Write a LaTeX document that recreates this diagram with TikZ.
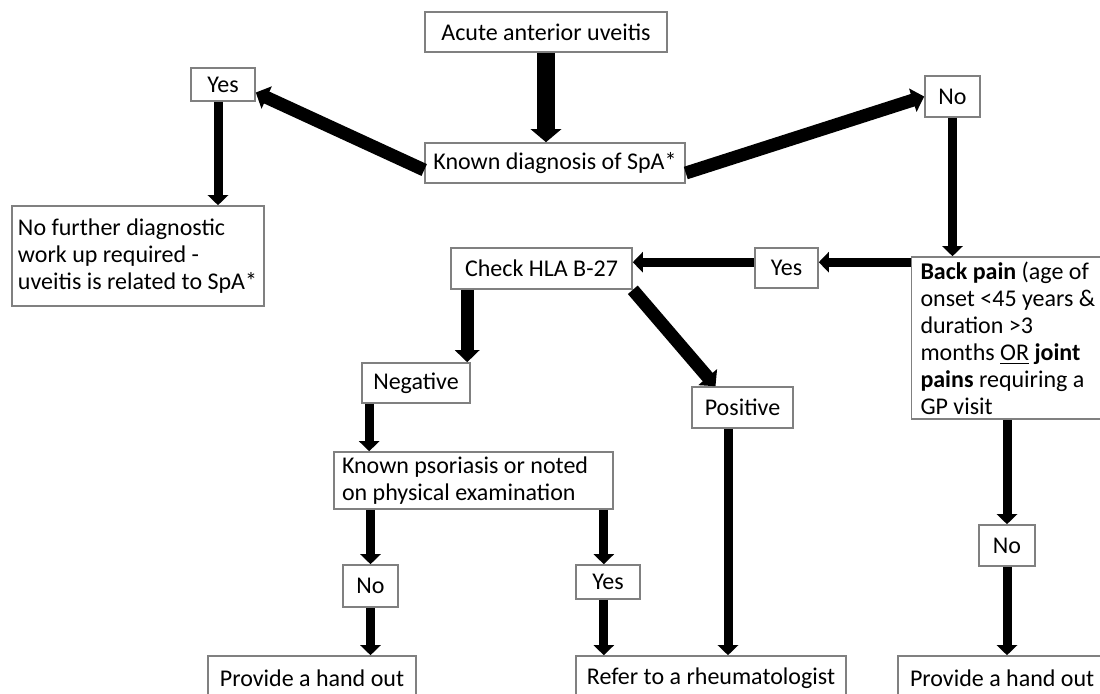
\documentclass[tikz,border=0pt]{standalone}
\usepackage{fontspec}
\setmainfont{Carlito}
\usepackage{tikz}
\usetikzlibrary{arrows.meta}
\usepackage{xcolor}
\definecolor{boxgray}{RGB}{128,128,128}

\begin{document}
\begin{tikzpicture}[x=0.5pt,y=-0.5pt,
    box/.style={draw=boxgray, line width=0.8pt, inner sep=0pt, font=\fontsize{12pt}{13.5pt}\selectfont},
    arr/.style={line width=4.5pt, -{Triangle[length=5pt,width=10pt]}},
    fatarr/.style={line width=6.5pt, -{Triangle[length=6pt,width=12pt]}}]
    \path[use as bounding box, clip] (0,0) rectangle (1100,693);

    % Top: start and first question
    \node[box, minimum width=121pt, minimum height=20pt] (acute) at (546,32) {Acute anterior uveitis};
    \node[box, minimum width=130pt, minimum height=20pt] (known) at (555,163) {Known diagnosis of SpA*};
    \node[box, minimum width=32pt, minimum height=16.5pt] (yes1) at (223,84.5) {Yes};
    \node[box, minimum width=27.5pt, minimum height=20.5pt] (no1) at (952.5,96.5) {No};
    \node[box, inner xsep=3pt, text width=120pt, align=flush left, minimum height=50pt] (nofurther) at (138,256)
        {No further diagnostic\\work up required -\\uveitis is related to SpA*};

    % Middle: back pain and HLA B-27
    \node[box, minimum width=90.5pt, minimum height=20.5pt] (hla) at (541.5,268.5) {Check HLA B-27};
    \node[box, minimum width=31.5pt, minimum height=20pt] (yes2) at (786.5,268) {Yes};
    \node[box, inner xsep=4.5pt, text width=95pt, align=flush left, minimum height=81pt] (back) at (1015.5,338)
        {\textbf{Back pain} (age of\\onset <45 years \&\\duration >3\\months \underline{OR} \textbf{joint}\\\textbf{pains} requiring a\\GP visit};
    \node[box, minimum width=54pt, minimum height=20pt] (neg) at (416,383) {Negative};
    \node[box, minimum width=50.5pt, minimum height=20.5pt] (pos) at (742.5,407.5) {Positive};
    \node[box, inner xsep=4pt, text width=131.5pt, align=flush left, minimum height=28.5pt] (psor) at (473.5,480.5)
        {Known psoriasis or noted\\on physical examination};

    % Bottom: answers and outcomes
    \node[box, minimum width=27.5pt, minimum height=21pt] (no2) at (370.5,586) {No};
    \node[box, minimum width=32pt, minimum height=17pt] (yes3) at (608,582) {Yes};
    \node[box, minimum width=28pt, minimum height=20.5pt] (no3) at (1007,545.5) {No};
    \node[box, minimum width=104pt, minimum height=22pt] (hand1) at (312,678) {Provide a hand out};
    \node[box, minimum width=135pt, minimum height=22pt] (rheum) at (711,678) {Refer to a rheumatologist};
    \node[box, inner xsep=6pt, text width=96.5pt, align=flush left, minimum height=22pt] (hand2) at (1006.5,678) {Provide a hand out};

    % Arrows
    \draw[line width=9pt, -{Triangle[length=6.5pt,width=15pt]}] (acute.south) -- (acute.south |- known.north);
    \draw[fatarr] ([yshift=-3.5pt]known.west) -- ([yshift=-4pt]yes1.east);
    \draw[fatarr] ([yshift=-5pt]known.east) -- (no1.west);
    \draw[arr] ([xshift=-2.5pt]yes1.south) -- ([xshift=-2.5pt]yes1.south |- nofurther.north);
    \draw[arr] (no1.south) -- (no1.south |- back.north);
    \coordinate (bk) at ([yshift=-3pt]back.north west);
    \draw[arr] (bk) -- (bk -| yes2.east);
    \draw[arr] (bk -| yes2.west) -- (bk -| hla.east);
    \coordinate (hn) at ([xshift=8.5pt]hla.south west);
    \draw[fatarr] (hn) -- (hn |- neg.north);
    \draw[fatarr] (hla.south east) -- ([xshift=-13.5pt]pos.north);
    \coordinate (ng) at ([xshift=4pt]neg.south west);
    \draw[arr] (ng) -- (ng |- psor.north);
    \draw[arr] (no2.north |- psor.south) -- (no2.north);
    \draw[arr] (no2.south) -- (no2.south |- hand1.north);
    \coordinate (py) at ([xshift=-5pt]psor.south east);
    \draw[arr] (py) -- (py |- yes3.north);
    \draw[arr] (py |- yes3.south) -- (py |- rheum.north);
    \coordinate (pr) at ([xshift=-7.25pt]pos.south);
    \draw[arr] (pr) -- (pr |- rheum.north);
    \draw[arr] (no3.north |- back.south) -- (no3.north);
    \draw[arr] (no3.south) -- (no3.south |- hand2.north);
\end{tikzpicture}
\end{document}
